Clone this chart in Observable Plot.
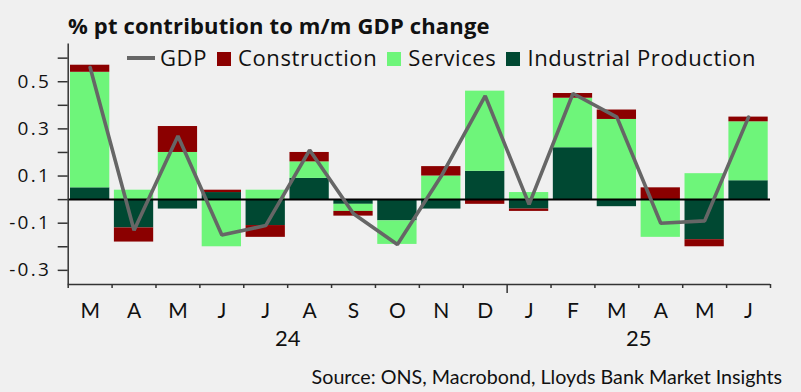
<!DOCTYPE html>
<html>
<head>
<meta charset="utf-8">
<script src="https://cdn.jsdelivr.net/npm/d3@7"></script>
<script src="https://cdn.jsdelivr.net/npm/@observablehq/plot@0.6"></script>
<style>
  html, body { margin: 0; padding: 0; background: #f0f0f0; }
  #wrap { position: relative; width: 801px; height: 392px; background: #f0f0f0; font-family: Lato, "Open Sans", sans-serif; color: #111; overflow: hidden; }
  #wrap svg { position: absolute; left: 0; top: 0; }
  #wrap svg g[aria-label="y-axis tick label"] text { font-family: "Open Sans", sans-serif; letter-spacing: 2.3px; }
  .title { position: absolute; left: 68px; top: 14px; font-family: "Open Sans", sans-serif; font-size: 22px; font-weight: 700; letter-spacing: 0.15px; line-height: 1; white-space: nowrap; }
  .legend { position: absolute; left: 127px; top: 46px; font-family: "Open Sans", sans-serif; font-size: 22px; letter-spacing: 0.6px; line-height: 1; display: flex; align-items: center; white-space: nowrap; }
  .legend .sw-line { display: inline-block; width: 28px; height: 4px; margin-right: 5px; transform: translateY(1px); }
  .legend .sw { display: inline-block; width: 14px; height: 14px; margin-right: 7px; transform: translateY(2px); }
  .legend .lab { margin-right: 10px; }
  .source { position: absolute; right: 19px; top: 367px; font-size: 19.7px; line-height: 1; white-space: nowrap; }
</style>
</head>
<body>
<div id="wrap">
  <div class="title">% pt contribution to m/m GDP change</div>
  <div class="legend" id="legend"></div>
  <div class="source">Source: ONS, Macrobond, Lloyds Bank Market Insights</div>
</div>
<script>
// Month labels (Mar 2024 – Jun 2025) and the year each month belongs to
const months = ["M","A","M","J","J","A","S","O","N","D","J","F","M","A","M","J"];
const monthYear = ["24","24","24","24","24","24","24","24","24","24","25","25","25","25","25","25"];
const years = ["24","25"];

// % pt contributions
const gdp          = [0.56,-0.13, 0.27,-0.15,-0.11, 0.21,-0.06,-0.19, 0.10, 0.44,-0.02, 0.45, 0.35,-0.10,-0.09, 0.35];
const industrial   = [0.05,-0.12,-0.04, 0.03,-0.11, 0.09,-0.02,-0.09,-0.04, 0.12,-0.04, 0.22,-0.03, 0.00,-0.17, 0.08];
const services     = [0.49, 0.04, 0.20,-0.20, 0.04, 0.07,-0.03,-0.10, 0.10, 0.34, 0.03, 0.21, 0.34,-0.16, 0.11, 0.25];
const construction = [0.03,-0.06, 0.11, 0.01,-0.05, 0.04,-0.02, 0.00, 0.04,-0.02,-0.01, 0.02, 0.04, 0.05,-0.03, 0.02];

// Series names / colours
const seriesNames  = ["Industrial Production", "Services", "Construction"];
const seriesColors = ["#004832", "#6ef57a", "#8b0000"];
const legendOrder  = ["GDP", "Construction", "Services", "Industrial Production"];
const gdpColor = "#666666";

// y ticks
const yTicks = d3.range(-3, 7).map(k => k / 10);

// Build long table (stack order: IP, Services, Construction)
const seriesValues = [industrial, services, construction];
const rows = [];
months.forEach((m, i) => {
  seriesNames.forEach((s, j) => rows.push({i, series: s, value: seriesValues[j][i]}));
});

// Year label positions: centre of each year's run of months
const yearCenters = years.map(y => {
  const idx = monthYear.map((v, i) => v === y ? i : -1).filter(i => i >= 0);
  return (idx[0] + idx[idx.length - 1] + 1) / 2;
});
const yearBoundaries = d3.range(1, months.length).filter(i => monthYear[i] !== monthYear[i - 1]);

const chart = Plot.plot({
  width: 801,
  height: 392,
  marginLeft: 67.7,
  marginRight: 31,
  marginTop: 43.5,
  marginBottom: 108,
  style: {background: "transparent", fontFamily: "Lato, 'Open Sans', sans-serif", fontSize: "21px", color: "#111", overflow: "visible"},
  x: {type: "linear", domain: [0, months.length], axis: null, label: null},
  y: {domain: [-0.36, 0.66], axis: null, label: null},
  color: {domain: seriesNames, range: seriesColors},
  marks: [
    Plot.rectY(rows, {x1: "i", x2: d => d.i + 1, y: "value", fill: "series", insetLeft: 2.3, insetRight: 2.3, order: null}),
    Plot.ruleY([0], {stroke: "#000", strokeWidth: 2}),
    Plot.line(gdp, {x: (d, i) => i + 0.5, y: d => d, stroke: gdpColor, strokeWidth: 3.6, strokeLinejoin: "miter"}),
    Plot.ruleX([0], {stroke: "#333", strokeWidth: 1.5}),
    Plot.ruleY([-0.36], {stroke: "#333", strokeWidth: 1.5}),
    Plot.axisY({ticks: yTicks, label: null, tickSize: 10, tickPadding: 7, stroke: "#333", strokeWidth: 1.5, fill: "#111", fontSize: 19,
      tickFormat: d => (Math.round(d * 10) % 2 !== 0) ? d.toFixed(1) : ""}),
    Plot.axisX({ticks: d3.range(0, months.length + 1).filter(i => !yearBoundaries.includes(i)), label: null, tickSize: 4, tickFormat: () => "", stroke: "#333", strokeWidth: 1.5}),
    Plot.axisX({ticks: yearBoundaries, label: null, tickSize: 9, tickFormat: () => "", stroke: "#333", strokeWidth: 1.5}),
    Plot.axisX({ticks: months.map((_, i) => i + 0.5), label: null, tickSize: 0, tickPadding: 19, fontSize: 21, fill: "#111",
      tickFormat: d => months[Math.floor(d)]}),
    Plot.axisX({ticks: yearCenters, label: null, tickSize: 0, tickPadding: 46, fontSize: 22, fill: "#111",
      tickFormat: d => years[yearCenters.indexOf(d)]})
  ]
});
document.getElementById("wrap").prepend(chart);

// Legend
const legend = document.getElementById("legend");
legendOrder.forEach(name => {
  const sw = document.createElement("span");
  if (name === "GDP") {
    sw.className = "sw-line";
    sw.style.background = gdpColor;
  } else {
    sw.className = "sw";
    sw.style.background = seriesColors[seriesNames.indexOf(name)];
  }
  const lab = document.createElement("span");
  lab.className = "lab";
  lab.textContent = name;
  legend.append(sw, lab);
});
</script>
</body>
</html>
